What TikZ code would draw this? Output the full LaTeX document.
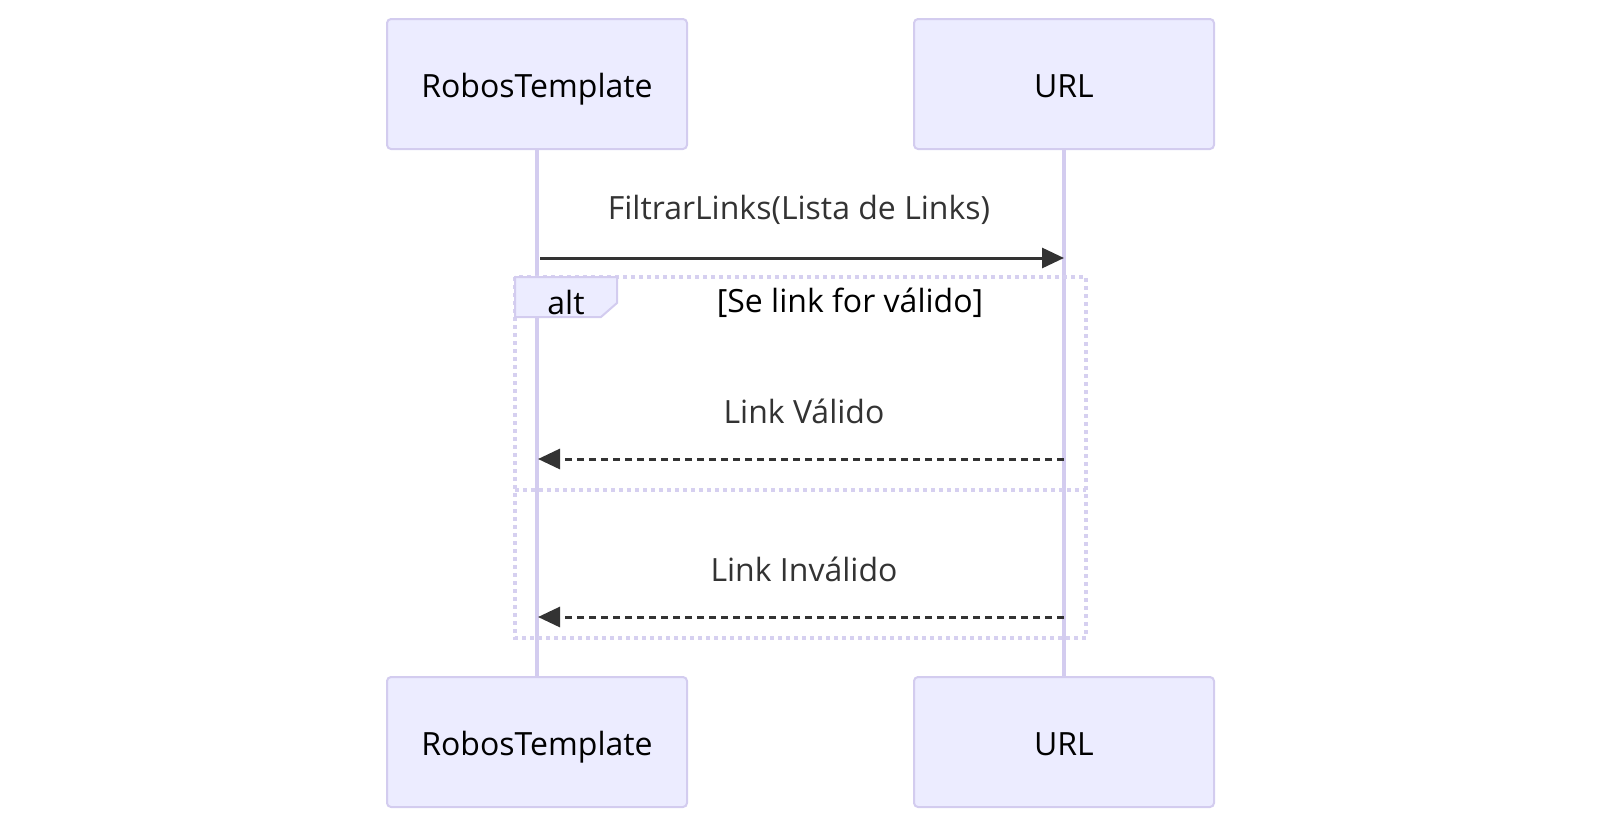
\documentclass[tikz,border=0pt]{standalone}
\usepackage{fontspec}
\setmainfont{Open Sans}
\usetikzlibrary{arrows.meta,calc}
\definecolor{actfill}{HTML}{ECECFF}
\definecolor{actline}{HTML}{D3CCEF}
\definecolor{loopline}{HTML}{D6D0F0}
\definecolor{msg}{HTML}{333333}
\tikzset{
  actor/.style={draw=actline, line width=2pt, fill=actfill, rounded corners=4pt,
    minimum width=300pt, minimum height=130pt, inner sep=0pt,
    text height=30pt, text depth=4pt,
    font=\fontsize{32}{38}\selectfont, text=black},
  lifeline/.style={draw=actline, line width=4pt},
  msgsolid/.style={draw=msg, line width=3pt, -{Triangle[length=22pt,width=20pt]}},
  msgdash/.style={draw=msg, line width=3pt, dash pattern=on 7pt off 5pt, -{Triangle[length=22pt,width=20pt]}},
  msglabel/.style={font=\fontsize{32}{38}\selectfont, text=msg, inner sep=0pt},
  loopbox/.style={draw=loopline, line width=4pt, dash pattern=on 4pt off 4pt},
  looplabel/.style={font=\fontsize{32}{38}\selectfont, text=black, inner sep=0pt},
}
\begin{document}
\begin{tikzpicture}[x=1pt,y=-1pt]
\useasboundingbox (0,0) rectangle (1600,830);
% actors
\node[actor] (rt) at (537,84) {RobosTemplate};
\node[actor] (url) at (1064,84) {URL};
\node[actor] (rtb) at (537,742) {RobosTemplate};
\node[actor] (urlb) at (1064,742) {URL};
% lifelines
\draw[lifeline] (rt.south) -- (rtb.north);
\draw[lifeline] (url.south) -- (urlb.north);
% message coordinates
\coordinate (m1s) at (540,258);
\coordinate (m1e) at (1064,258);
\coordinate (m2s) at (1064,459);
\coordinate (m2e) at (538,459);
\coordinate (m3s) at (1064,617);
\coordinate (m3e) at (538,617);
% alt frame
\draw[loopbox] (515,277) rectangle (1086,638);
\draw[loopbox] (515,490) -- (1086,490);
\draw[draw=actline, line width=2pt, fill=actfill] (515,277) -- (617,277) -- (617,303) -- (601,317) -- (515,317) -- cycle;
\node[looplabel] (altlbl) at (566,302) {alt};
\node[looplabel] (cond) at (850,303) {[Se link for válido]};
% messages
\draw[msgsolid] (m1s) -- (m1e);
\node[msglabel] (l1) at (799,210) {FiltrarLinks(Lista de Links)};
\draw[msgdash] (m2s) -- (m2e);
\node[msglabel] (l2) at (804,411) {Link Válido};
\draw[msgdash] (m3s) -- (m3e);
\node[msglabel] (l3) at (804,569) {Link Inválido};
\end{tikzpicture}
\end{document}
